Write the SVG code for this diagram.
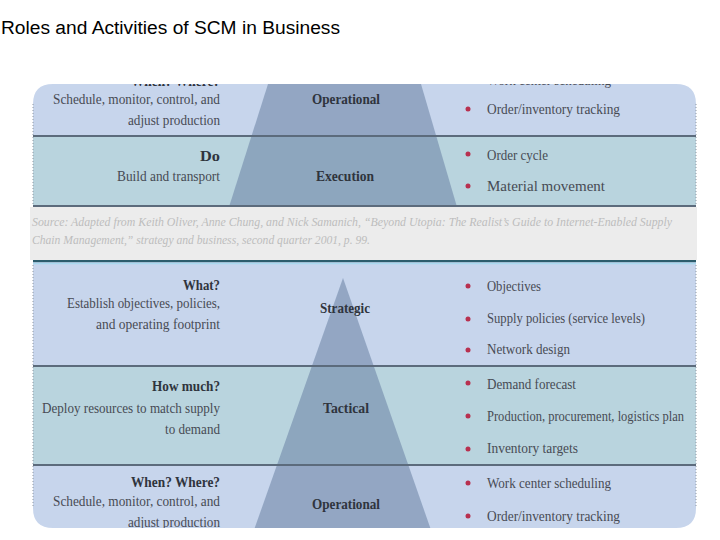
<svg xmlns="http://www.w3.org/2000/svg" width="720" height="540" viewBox="0 0 720 540">
<style>
.title{font-family:"Liberation Sans",Arial,sans-serif;font-size:18px;fill:#000}
.t{font-family:"Liberation Serif","DejaVu Serif",serif;font-size:15px;fill:#474b54}
.b{font-family:"Liberation Serif","DejaVu Serif",serif;font-size:15px;font-weight:bold;fill:#2f343d}
.cap{font-family:"Liberation Serif","DejaVu Serif",serif;font-size:12px;font-style:italic;fill:#bdbdbd}
.blue{fill:#c7d5ec}
.teal{fill:#b9d4de}
.pyr{fill:#6f87a8;fill-opacity:0.6}
.sep{stroke:#5c6b7c;stroke-width:2}
.dot{fill:#b8304f}
.edge{fill:none;stroke:#9098a2;stroke-width:1;stroke-dasharray:1 2}
</style>
<defs>
<clipPath id="cu"><path d="M33,104 Q33,84 53,84 H676 Q696,84 696,104 V207 H33 Z"/></clipPath>
<clipPath id="cl"><path d="M33,260 H696 V508 Q696,528 676,528 H53 Q33,528 33,508 Z"/></clipPath>
</defs>
<rect width="720" height="540" fill="#ffffff"/>
<text class="title" x="1" y="34" textLength="339" lengthAdjust="spacingAndGlyphs">Roles and Activities of SCM in Business</text>

<g id="upper" clip-path="url(#cu)">
  <rect class="blue" x="33" y="84" width="663" height="52"/>
  <rect class="teal" x="33" y="137" width="663" height="70"/>
  <path class="pyr" d="M268,84 L421,84 L457,207 L229,207 Z"/>
  <line class="sep" x1="33" y1="136" x2="696" y2="136"/>
  <line class="sep" x1="33" y1="206" x2="696" y2="206"/>
  <g id="u-operational">
    <text class="b" x="220" y="86" text-anchor="end" textLength="89" lengthAdjust="spacingAndGlyphs">When? Where?</text>
    <text class="t" x="220" y="104" text-anchor="end" textLength="167" lengthAdjust="spacingAndGlyphs">Schedule, monitor, control, and</text>
    <text class="t" x="220" y="125" text-anchor="end" textLength="92" lengthAdjust="spacingAndGlyphs">adjust production</text>
    <text class="b" x="346" y="104" text-anchor="middle" textLength="68" lengthAdjust="spacingAndGlyphs">Operational</text>
    <text class="t" x="487" y="85" textLength="124" lengthAdjust="spacingAndGlyphs">Work center scheduling</text>
    <circle class="dot" cx="468" cy="109" r="2.5"/>
    <text class="t" x="487" y="114" textLength="133" lengthAdjust="spacingAndGlyphs">Order/inventory tracking</text>
  </g>
  <g id="u-execution">
    <text class="b" x="220" y="161" text-anchor="end" textLength="20" lengthAdjust="spacingAndGlyphs">Do</text>
    <text class="t" x="220" y="181" text-anchor="end" textLength="103" lengthAdjust="spacingAndGlyphs">Build and transport</text>
    <text class="b" x="345" y="181" text-anchor="middle" textLength="58" lengthAdjust="spacingAndGlyphs">Execution</text>
    <circle class="dot" cx="468" cy="154" r="2.5"/>
    <text class="t" x="487" y="160" textLength="61" lengthAdjust="spacingAndGlyphs">Order cycle</text>
    <circle class="dot" cx="468" cy="186" r="2.5"/>
    <text class="t" x="487" y="191" textLength="118" lengthAdjust="spacingAndGlyphs">Material movement</text>
  </g>
</g>
<path class="edge" d="M33,104 V206 M696,104 V206"/>

<g id="caption">
  <rect x="30" y="207" width="667" height="53" fill="#ececec"/>
  <text class="cap" x="32" y="226" textLength="640" lengthAdjust="spacingAndGlyphs">Source: Adapted from Keith Oliver, Anne Chung, and Nick Samanich, “Beyond Utopia: The Realist’s Guide to Internet-Enabled Supply</text>
  <text class="cap" x="32" y="244" textLength="338" lengthAdjust="spacingAndGlyphs">Chain Management,” strategy and business, second quarter 2001, p. 99.</text>
</g>

<g id="lower" clip-path="url(#cl)">
  <rect class="blue" x="33" y="260" width="663" height="107"/>
  <rect class="teal" x="33" y="367" width="663" height="98"/>
  <rect class="blue" x="33" y="465" width="663" height="63"/>
  <path class="pyr" d="M343,278 L431,530 L254,530 Z"/>
  <line x1="33" y1="261" x2="696" y2="261" stroke="#2c5c6c" stroke-width="2.5"/>
  <line x1="33" y1="263.5" x2="696" y2="263.5" stroke="#a9d9ef" stroke-width="1.5"/>
  <line class="sep" x1="33" y1="366" x2="696" y2="366"/>
  <line class="sep" x1="33" y1="465" x2="696" y2="465"/>
  <g id="strategic">
    <text class="b" x="220" y="290" text-anchor="end" textLength="37" lengthAdjust="spacingAndGlyphs">What?</text>
    <text class="t" x="220" y="308" text-anchor="end" textLength="153" lengthAdjust="spacingAndGlyphs">Establish objectives, policies,</text>
    <text class="t" x="220" y="329" text-anchor="end" textLength="124" lengthAdjust="spacingAndGlyphs">and operating footprint</text>
    <text class="b" x="345" y="313" text-anchor="middle" textLength="50" lengthAdjust="spacingAndGlyphs">Strategic</text>
    <circle class="dot" cx="468" cy="286" r="2.5"/>
    <text class="t" x="487" y="291" textLength="54" lengthAdjust="spacingAndGlyphs">Objectives</text>
    <circle class="dot" cx="468" cy="319" r="2.5"/>
    <text class="t" x="487" y="323" textLength="158" lengthAdjust="spacingAndGlyphs">Supply policies (service levels)</text>
    <circle class="dot" cx="468" cy="350" r="2.5"/>
    <text class="t" x="487" y="354" textLength="83" lengthAdjust="spacingAndGlyphs">Network design</text>
  </g>
  <g id="tactical">
    <text class="b" x="220" y="391" text-anchor="end" textLength="68" lengthAdjust="spacingAndGlyphs">How much?</text>
    <text class="t" x="220" y="413" text-anchor="end" textLength="178" lengthAdjust="spacingAndGlyphs">Deploy resources to match supply</text>
    <text class="t" x="220" y="434" text-anchor="end" textLength="55" lengthAdjust="spacingAndGlyphs">to demand</text>
    <text class="b" x="346" y="413" text-anchor="middle" textLength="46" lengthAdjust="spacingAndGlyphs">Tactical</text>
    <circle class="dot" cx="468" cy="383" r="2.5"/>
    <text class="t" x="487" y="389" textLength="89" lengthAdjust="spacingAndGlyphs">Demand forecast</text>
    <circle class="dot" cx="468" cy="416" r="2.5"/>
    <text class="t" x="487" y="421" style="font-size:14px" textLength="197" lengthAdjust="spacingAndGlyphs">Production, procurement, logistics plan</text>
    <circle class="dot" cx="468" cy="449" r="2.5"/>
    <text class="t" x="487" y="453" textLength="91" lengthAdjust="spacingAndGlyphs">Inventory targets</text>
  </g>
  <g id="operational">
    <text class="b" x="220" y="487" text-anchor="end" textLength="89" lengthAdjust="spacingAndGlyphs">When? Where?</text>
    <text class="t" x="220" y="506" text-anchor="end" textLength="167" lengthAdjust="spacingAndGlyphs">Schedule, monitor, control, and</text>
    <text class="t" x="220" y="527" text-anchor="end" textLength="92" lengthAdjust="spacingAndGlyphs">adjust production</text>
    <text class="b" x="346" y="509" text-anchor="middle" textLength="68" lengthAdjust="spacingAndGlyphs">Operational</text>
    <circle class="dot" cx="468" cy="483" r="2.5"/>
    <text class="t" x="487" y="488" textLength="124" lengthAdjust="spacingAndGlyphs">Work center scheduling</text>
    <circle class="dot" cx="468" cy="516" r="2.5"/>
    <text class="t" x="487" y="521" textLength="133" lengthAdjust="spacingAndGlyphs">Order/inventory tracking</text>
  </g>
</g>
<path class="edge" d="M33,265 V508 M696,265 V508"/>
</svg>
